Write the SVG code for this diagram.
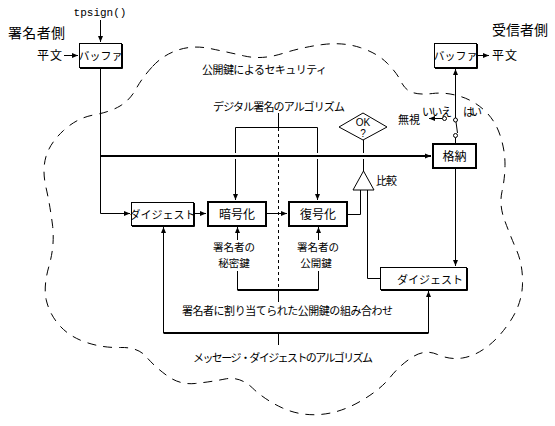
<svg xmlns="http://www.w3.org/2000/svg" width="555" height="426" viewBox="0 0 555 426">
<style>
text{font-family:"Noto Sans CJK JP","Noto Sans",sans-serif;fill:#000}
.t11{font-size:11px}
.t12{font-size:12px}
.t14{font-size:14px}
.key{font-size:10.5px}
.c{text-anchor:middle}
.ln{fill:none;stroke:#000;stroke-width:1}
.thk{fill:none;stroke:#000;stroke-width:2}
.box{fill:#fff;stroke:#000;stroke-width:1}
.box2{fill:#fff;stroke:#000;stroke-width:2}
.sh{fill:none;stroke:#000;stroke-width:1}
.cloud{fill:none;stroke:#000;stroke-width:1;stroke-dasharray:9 7}
.sw{fill:#fff;stroke:#000;stroke-width:1}
</style>
<defs>
<marker id="ah" markerWidth="7" markerHeight="6" refX="6" refY="3" orient="auto" markerUnits="userSpaceOnUse"><path d="M0,0.5 L6,3 L0,5.5 z" fill="#000"/></marker>
</defs>
<g id="cloud">
<path class="cloud" d="M152.5,66.5 Q163,55 178,50 Q193,45 210,48.5 Q227,52 244.5,56 Q262,60 282.5,53.5 Q303,47 323,44.5 Q343,42 360,47.5 Q377,53 387,63 Q397,73 401,81.5 Q405,90 412.5,92.5 Q420,95 432.5,93.5 Q445,92 459,96 Q473,100 484,110 Q495,120 500,135 Q505,150 505,164 Q505,178 502,191.5 Q499,205 504.5,220 Q510,235 516.5,250 Q523,265 522.5,284 Q522,303 511,320 Q500,337 487.5,346.5 Q475,356 462.5,358 Q450,360 437.5,354.5 Q425,349 412.5,357 Q400,365 390,377.5 Q380,390 360,401.5 Q340,413 320,414.5 Q300,416 282.5,408 Q265,400 252.5,388 Q240,376 225,379 Q210,382 195,383.5 Q180,385 167.5,376 Q155,367 146.5,357 Q138,347 120.5,347.5 Q103,348 86.5,342.5 Q70,337 60,326 Q50,315 46.5,301 Q43,287 49,266 Q55,245 52.5,225 Q50,205 46,187.5 Q42,170 46,156.5 Q50,143 63.5,130.5 Q77,118 93.5,115 Q110,112 120,106 Q130,100 136,89 Q142,78 152.5,66.5 Z"/>
</g>
<g id="labels">
<text class="t14" x="8" y="38" textLength="57">署名者側</text>
<text class="t14" x="492" y="35" textLength="56">受信者側</text>
<text x="100" y="16" text-anchor="middle" style="font-family:'Liberation Mono',monospace;font-size:11px">tpsign()</text>
<text class="t12" x="37" y="60" textLength="25">平文</text>
<text class="t12" x="492" y="60" textLength="25">平文</text>
<text class="t11" x="202" y="74" textLength="125">公開鍵によるセキュリティ</text>
<text class="t11" x="213" y="111" textLength="132">デジタル署名のアルゴリズム</text>
<text class="t11" x="376" y="185" textLength="21">比較</text>
<text class="t11" x="422" y="116" textLength="30">いいえ</text>
<text class="t11" x="463" y="116" textLength="19">はい</text>
<text class="t11" x="398" y="124" textLength="22">無視</text>
<text class="key c" x="234" y="251">署名者の</text>
<text class="key c" x="234" y="266.5">秘密鍵</text>
<text class="key c" x="318" y="251">署名者の</text>
<text class="key c" x="316" y="266.5">公開鍵</text>
<text class="t11" x="182" y="315" textLength="211">署名者に割り当てられた公開鍵の組み合わせ</text>
<text class="t11" x="193" y="362" textLength="180">メッセージ・ダイジェストのアルゴリズム</text>
</g>
<g id="connectors">
<path class="ln" d="M100.5,20 V42" marker-end="url(#ah)"/>
<path class="ln" d="M64,55.5 H78" marker-end="url(#ah)"/>
<path class="ln" d="M100.5,68 V213.5 H130" marker-end="url(#ah)"/>
<path class="thk" d="M100,156 H431" marker-end="url(#ah)"/>
<path class="ln" d="M194,213.5 H206" marker-end="url(#ah)"/>
<path class="ln" d="M267,213.5 H287" marker-end="url(#ah)"/>
<path class="ln" d="M348,214.5 H360.5 V190"/>
<path class="ln" d="M380,278.5 H367.5 V190"/>
<path class="ln" d="M363.5,171 V159 M363.5,153 V140"/>
<path class="ln" d="M278.5,113 V127.5 M235.5,127.5 H317.5"/>
<path class="ln" d="M235.5,127.5 V153 M317.5,127.5 V153"/>
<path class="ln" d="M235.5,159 V200" marker-end="url(#ah)"/>
<path class="ln" d="M317.5,159 V200" marker-end="url(#ah)"/>
<path class="ln" d="M278.5,128 V289" stroke-dasharray="3 3"/>
<path class="ln" d="M237.5,240 V227" marker-end="url(#ah)"/>
<path class="ln" d="M318.5,240 V227" marker-end="url(#ah)"/>
<path class="ln" d="M237.5,271 V290 M318.5,271 V290 M278.5,290 V302"/>
<path class="thk" d="M237.5,290 H318.5"/>
<path class="ln" d="M163.5,333 V227" marker-end="url(#ah)"/>
<path class="ln" d="M428.5,333 V291" marker-end="url(#ah)"/>
<path class="thk" d="M163.5,333 H428.5"/>
<path class="ln" d="M278.5,333 V345"/>
<path class="ln" d="M455.5,169 V266" stroke-width="1.5" marker-end="url(#ah)"/>
<path class="ln" d="M455.5,118 V69" marker-end="url(#ah)"/>
<path class="ln" d="M456,122 L457.5,133"/>
<path class="ln" d="M455.5,137.5 V143"/>
<path class="ln" d="M442.5,118.5 H429" marker-end="url(#ah)"/>
<path class="ln" d="M477,55.5 H489" marker-end="url(#ah)"/>
<circle class="sw" cx="455.5" cy="120" r="2"/>
<circle class="sw" cx="455.5" cy="135.5" r="2"/>
<circle class="sw" cx="444.5" cy="118.5" r="2"/>
</g>
<g id="node-lbuf">
<rect class="box" x="79.5" y="43.5" width="42" height="24"/>
<path class="sh" d="M80,68.5 H122.5 V44"/>
<text class="t11 c" x="100.5" y="60">バッファ</text>
</g>
<g id="node-rbuf">
<rect class="box" x="434.5" y="43.5" width="42" height="24"/>
<path class="sh" d="M435,68.5 H477.5 V44"/>
<text class="t11 c" x="455.5" y="60">バッファ</text>
</g>
<g id="node-ldig">
<rect class="box" x="131.5" y="202.5" width="62" height="23"/>
<path class="sh" d="M132,226.5 H194.5 V203"/>
<text class="t11 c" x="162.5" y="219">ダイジェスト</text>
</g>
<g id="node-enc">
<rect class="box2" x="208" y="202" width="58" height="24"/>
<text class="t12 c" x="237" y="219">暗号化</text>
</g>
<g id="node-dec">
<rect class="box2" x="289" y="202" width="58" height="24"/>
<text class="t12 c" x="318" y="219">復号化</text>
</g>
<g id="node-store">
<rect class="box2" x="433" y="144" width="43" height="24"/>
<text class="t12 c" x="454.5" y="161">格納</text>
</g>
<g id="node-rdig">
<rect class="box" x="380.5" y="267.5" width="86" height="22"/>
<path class="sh" d="M381,290.5 H467.5 V268"/>
<text class="t11 c" x="430" y="284">ダイジェスト</text>
</g>
<g id="node-ok">
<polygon points="363,113 387,127 363,140 339,127" fill="#fff" stroke="#000" stroke-width="1"/>
<text x="363" y="126" text-anchor="middle" style="font-family:'Liberation Sans',sans-serif;font-size:10px">OK</text>
<text x="363" y="137" text-anchor="middle" style="font-family:'Liberation Sans',sans-serif;font-size:10px">?</text>
</g>
<g id="node-compare">
<polygon points="363.5,171 353,190 374,190" fill="#fff" stroke="#000" stroke-width="1"/>
</g>
</svg>
